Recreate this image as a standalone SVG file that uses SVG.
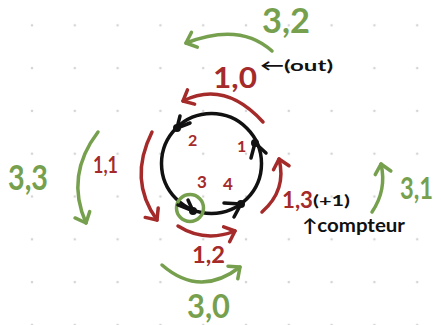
<svg xmlns="http://www.w3.org/2000/svg" width="441" height="325" viewBox="0 0 441 325">
<defs>
<style>
.t{font-family:Lato,"Liberation Sans",sans-serif;font-weight:700;}
.red{fill:#a52a2a;}
.grn{fill:#76a04e;}
.blk{fill:#111;}
.ar{fill:none;stroke-width:3.5;stroke-linecap:round;}
.ar.r{stroke:#a52a2a;marker-end:url(#mr);}
.ar.g{stroke:#76a04e;marker-end:url(#mg);}
.k{fill:none;stroke:#111;stroke-width:3.5;stroke-linecap:round;stroke-linejoin:round;}
</style>
<marker id="mr" markerUnits="userSpaceOnUse" orient="auto" markerWidth="20" markerHeight="20" refX="10" refY="10" viewBox="0 0 20 20" overflow="visible">
<path d="M1,2 L10,10 L1,18" fill="none" stroke="#a52a2a" stroke-width="3.5" stroke-linecap="round" stroke-linejoin="round"/>
</marker>
<marker id="mg" markerUnits="userSpaceOnUse" orient="auto" markerWidth="20" markerHeight="20" refX="10" refY="10" viewBox="0 0 20 20" overflow="visible">
<path d="M1,2 L10,10 L1,18" fill="none" stroke="#76a04e" stroke-width="3.5" stroke-linecap="round" stroke-linejoin="round"/>
</marker>
<pattern id="dots" x="-10.8" y="-17.5" width="42.8" height="42.8" patternUnits="userSpaceOnUse">
<circle cx="42.8" cy="42.8" r="1.3" fill="#d4d4d4"/>
<circle cx="0" cy="0" r="1.3" fill="#d4d4d4"/>
<circle cx="42.8" cy="0" r="1.3" fill="#d4d4d4"/>
<circle cx="0" cy="42.8" r="1.3" fill="#d4d4d4"/>
</pattern>
</defs>
<rect width="441" height="325" fill="#fff"/>
<rect width="441" height="325" fill="url(#dots)"/>

<g id="loop">
<circle cx="211.5" cy="163.5" r="50" class="k"/>
<circle cx="190" cy="208" r="13.5" fill="none" stroke="#76a04e" stroke-width="3.5"/>
</g>

<g id="n1">
<path class="k" d="M251,158 L255,143 L266,153"/>
<circle cx="255" cy="143" r="4" fill="#111"/>
<text class="t red" x="237" y="152" font-size="16">1</text>
</g>
<g id="n2">
<path class="k" d="M180,116 L177,128 L190,123"/>
<circle cx="177" cy="128" r="4" fill="#111"/>
<text class="t red" x="188" y="146" font-size="16">2</text>
</g>
<g id="n3">
<path class="k" d="M188,200 L193,211 L178,205"/>
<circle cx="193" cy="211" r="4" fill="#111"/>
<text class="t red" x="197" y="188" font-size="17">3</text>
</g>
<g id="n4">
<path class="k" d="M224,203 L241,204 L234,217"/>
<circle cx="241" cy="204" r="4" fill="#111"/>
<text class="t red" x="223" y="190" font-size="17">4</text>
</g>

<g id="connectors">
<path class="ar r" d="M263,122 Q225,80 183,101"/>
<path class="ar r" d="M152,132 Q128,180 157,220"/>
<path class="ar r" d="M178,226 Q205,243 235,231"/>
<path class="ar r" d="M262,212 Q287,190 279,159"/>
<path class="ar g" d="M272,51 Q240,22 186,43"/>
<path class="ar g" d="M98,132 Q65,175 86,223"/>
<path class="ar g" d="M162,265 Q200,298 240,267"/>
<path class="ar g" d="M372,212 Q387,190 381,164"/>
</g>

<g id="labels">
<text class="t grn" x="262" y="33" font-size="34" textLength="48" lengthAdjust="spacingAndGlyphs">3,2</text>
<text class="t red" x="213" y="88" font-size="29" textLength="44" lengthAdjust="spacingAndGlyphs">1,0</text>
<text class="t blk" x="260" y="71" font-size="16" textLength="73" lengthAdjust="spacingAndGlyphs">←(out)</text>
<text class="t red" x="93" y="173" font-size="22" textLength="25" lengthAdjust="spacingAndGlyphs">1,1</text>
<text class="t grn" x="8" y="190" font-size="34" textLength="40" lengthAdjust="spacingAndGlyphs">3,3</text>
<text class="t red" x="192" y="263" font-size="22" textLength="33" lengthAdjust="spacingAndGlyphs">1,2</text>
<text class="t grn" x="187" y="318" font-size="32" textLength="43" lengthAdjust="spacingAndGlyphs">3,0</text>
<text class="t red" x="282" y="208" font-size="22" textLength="31" lengthAdjust="spacingAndGlyphs">1,3</text>
<text class="t blk" x="313" y="206" font-size="15" textLength="37" lengthAdjust="spacingAndGlyphs">(+1)</text>
<text class="t blk" x="302" y="232" font-size="18" textLength="103" lengthAdjust="spacingAndGlyphs">↑compteur</text>
<text class="t grn" x="400" y="199" font-size="30" textLength="33" lengthAdjust="spacingAndGlyphs">3,1</text>
</g>
</svg>
